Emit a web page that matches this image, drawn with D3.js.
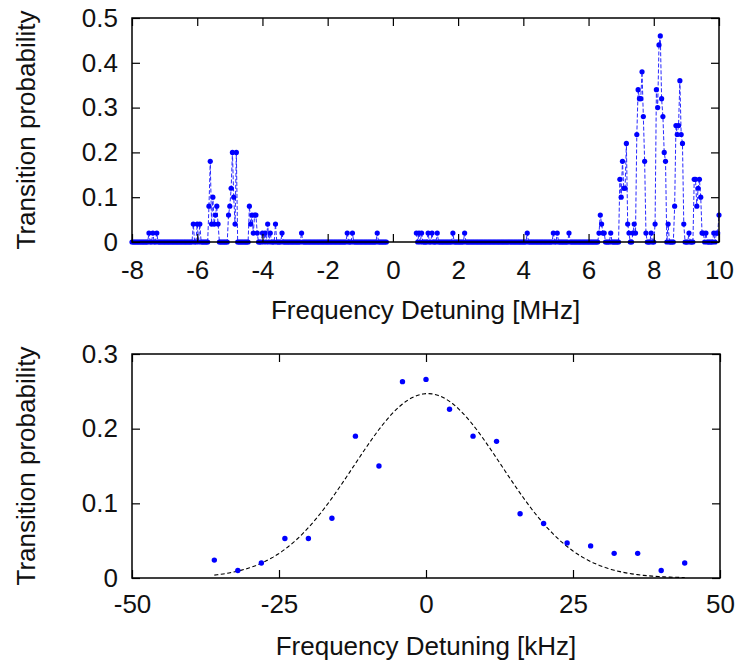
<!DOCTYPE html>
<html>
<head>
<meta charset="utf-8">
<script src="https://cdn.jsdelivr.net/npm/d3@7/dist/d3.min.js"></script>
<style>
  body { margin: 0; background: #fff; }
  .chart-container text { font-family: "Liberation Sans", Arial, sans-serif; fill: #111; }
</style>
</head>
<body>
<div class="chart-container"></div>
<script>
// Panel de arriba: barrido en MHz
const scanRanges = [[-8, -0.2], [0.72, 10]]   // tramos medidos (sin datos entre medias)
const scanStep = 0.04
// puntos distintos de cero (el resto del barrido vale 0)
const peakFreq = [
  -7.48, -7.36, -7.24, -6.12, -6.00, -5.92,
  -5.64, -5.60, -5.56, -5.52, -5.48, -5.44, -5.40, -5.36,
  -5.04, -5.00, -4.96, -4.92, -4.88, -4.84, -4.80,
  -4.40, -4.36, -4.32, -4.28, -4.24, -4.20, -4.16,
  -4.00, -3.92, -3.84, -3.76, -3.60, -3.40, -2.80, -1.40, -1.24, -0.48,
  0.72, 0.80, 0.88, 1.08, 1.20, 1.36, 1.84, 2.20, 4.12, 4.92, 5.04, 5.40,
  6.32, 6.36, 6.40, 6.44, 6.48, 6.68,
  6.96, 7.00, 7.04, 7.08, 7.12, 7.16, 7.20, 7.24,
  7.36, 7.40, 7.44, 7.48, 7.52, 7.56, 7.60, 7.64, 7.68, 7.72, 7.76,
  7.92, 8.04, 8.08, 8.12, 8.16, 8.20, 8.24, 8.28, 8.32, 8.36, 8.44,
  8.64, 8.68, 8.72, 8.76, 8.80, 8.84, 8.88, 8.92,
  9.08, 9.24, 9.28, 9.32, 9.36, 9.40, 9.44, 9.48, 9.52, 9.60,
  9.84, 9.92, 9.96, 10.00
]
const peakProb = [
  0.02, 0.02, 0.02, 0.04, 0.04, 0.04,
  0.08, 0.18, 0.04, 0.10, 0.04, 0.06, 0.08, 0.04,
  0.06, 0.08, 0.12, 0.20, 0.10, 0.04, 0.20,
  0.08, 0.04, 0.06, 0.02, 0.06, 0.06, 0.02,
  0.02, 0.02, 0.04, 0.02, 0.04, 0.02, 0.02, 0.02, 0.02, 0.02,
  0.02, 0.02, 0.02, 0.02, 0.02, 0.02, 0.02, 0.02, 0.02, 0.02, 0.02, 0.02,
  0.02, 0.06, 0.04, 0.02, 0.02, 0.02,
  0.14, 0.10, 0.18, 0.12, 0.12, 0.22, 0.04, 0.02,
  0.02, 0.04, 0.02, 0.24, 0.34, 0.32, 0.32, 0.38, 0.28, 0.18, 0.02,
  0.02, 0.04, 0.34, 0.30, 0.44, 0.46, 0.32, 0.28, 0.20, 0.18, 0.04,
  0.08, 0.26, 0.24, 0.26, 0.36, 0.24, 0.22, 0.04,
  0.02, 0.14, 0.14, 0.08, 0.12, 0.14, 0.10, 0.02, 0.02, 0.02,
  0.02, 0.02, 0.02, 0.06
]
const mhzTicks = [-8, -6, -4, -2, 0, 2, 4, 6, 8, 10]
const probTicksTop = [0, 0.1, 0.2, 0.3, 0.4, 0.5]

// Panel de abajo: barrido fino en kHz
const khzFreq = [-36, -32, -28, -24, -20, -16, -12, -8, -4, 0, 4, 8, 12, 16, 20, 24, 28, 32, 36, 40, 44]
const khzProb = [0.024, 0.010, 0.020, 0.053, 0.053, 0.080, 0.190, 0.150, 0.263, 0.266, 0.226,
                 0.190, 0.183, 0.086, 0.073, 0.047, 0.043, 0.033, 0.033, 0.010, 0.020]
const khzTicks = [-50, -25, 0, 25, 50]
const probTicksBottom = [0, 0.1, 0.2, 0.3]
// ajuste gaussiano
const fitAmp = 0.247
const fitCenter = 0.3
const fitSigma = 12.6
const fitRange = [-36, 44]

const WIDTH = 741
const HEIGHT = 665
const FONT = 26
const TICK = 8

const svg = d3.select(".chart-container")
  .append("svg")
  .attr("width", WIDTH)
  .attr("height", HEIGHT)

const topBox = { left: 132, right: 719, top: 18, bottom: 242 }
const botBox = { left: 132, right: 720, top: 354, bottom: 578 }

// etiquetas con guion normal, como en el original
const probFormat = d => d === 0 ? "0" : d.toFixed(1)
const intFormat = d => String(d)

// Dibuja ejes, marco y titulos de un panel
const drawFrame = (box, x, y, xTicks, yTicks, xTitle, padX) => {
  const g = svg.append("g")

  g.append("g")
    .attr("transform", `translate(0, ${box.bottom})`)
    .call(d3.axisBottom(x).tickValues(xTicks).tickSize(-TICK).tickPadding(padX).tickFormat(intFormat))
  g.append("g")
    .attr("transform", `translate(0, ${box.top})`)
    .call(d3.axisTop(x).tickValues(xTicks).tickSize(-TICK).tickFormat(""))
  g.append("g")
    .attr("transform", `translate(${box.left}, 0)`)
    .call(d3.axisLeft(y).tickValues(yTicks).tickSize(-TICK).tickPadding(14).tickFormat(probFormat))
  g.append("g")
    .attr("transform", `translate(${box.right}, 0)`)
    .call(d3.axisRight(y).tickValues(yTicks).tickSize(-TICK).tickFormat(""))

  g.selectAll(".domain").remove()
  g.selectAll(".tick line").attr("stroke", "#000").attr("stroke-width", 1.2)
  g.selectAll(".tick text").attr("font-size", FONT)

  g.append("rect")
    .attr("x", box.left)
    .attr("y", box.top)
    .attr("width", box.right - box.left)
    .attr("height", box.bottom - box.top)
    .attr("fill", "none")
    .attr("stroke", "#000")
    .attr("stroke-width", 1.5)

  g.append("text")
    .attr("x", (box.left + box.right) / 2)
    .attr("y", box.bottom + 77)
    .attr("text-anchor", "middle")
    .attr("font-size", FONT)
    .text(xTitle)

  g.append("text")
    .attr("transform", `translate(26, ${(box.top + box.bottom) / 2}) rotate(-90)`)
    .attr("dy", "0.35em")
    .attr("text-anchor", "middle")
    .attr("font-size", FONT)
    .text("Transition probability")
}

// ---- Panel de arriba ----
const xTop = d3.scaleLinear().domain([-8, 10]).range([topBox.left, topBox.right])
const yTop = d3.scaleLinear().domain([0, 0.5]).range([topBox.bottom, topBox.top])

const peakLookup = new Map(peakFreq.map((f, i) => [Math.round(f / scanStep), peakProb[i]]))
const scanSegments = scanRanges.map(([a, b]) =>
  d3.range(Math.round(a / scanStep), Math.round(b / scanStep) + 1)
    .map(k => ({ freq: k * scanStep, prob: peakLookup.get(k) || 0 })))

const lineTop = d3.line().x(d => xTop(d.freq)).y(d => yTop(d.prob))

const topData = svg.append("g")
topData.selectAll("path")
  .data(scanSegments)
  .join("path")
  .attr("d", d => lineTop(d))
  .attr("fill", "none")
  .attr("stroke", "#2a2aff")
  .attr("stroke-width", 1)
  .attr("stroke-dasharray", "4,2")

topData.selectAll("circle")
  .data(scanSegments.flat())
  .join("circle")
  .attr("cx", d => xTop(d.freq))
  .attr("cy", d => yTop(d.prob))
  .attr("r", 2.6)
  .attr("fill", "#0000ff")

drawFrame(topBox, xTop, yTop, mhzTicks, probTicksTop, "Frequency Detuning [MHz]", 19)

// ---- Panel de abajo ----
const xBot = d3.scaleLinear().domain([-50, 50]).range([botBox.left, botBox.right])
const yBot = d3.scaleLinear().domain([0, 0.3]).range([botBox.bottom, botBox.top])

const fitPoints = d3.range(fitRange[0], fitRange[1] + 0.25, 0.5)
  .map(f => ({ freq: f, prob: fitAmp * Math.exp(-((f - fitCenter) ** 2) / (2 * fitSigma * fitSigma)) }))

const botData = svg.append("g")
botData.append("path")
  .attr("d", d3.line().x(d => xBot(d.freq)).y(d => yBot(d.prob))(fitPoints))
  .attr("fill", "none")
  .attr("stroke", "#000")
  .attr("stroke-width", 1.1)
  .attr("stroke-dasharray", "4,2.5")

botData.selectAll("circle")
  .data(khzFreq.map((f, i) => ({ freq: f, prob: khzProb[i] })))
  .join("circle")
  .attr("cx", d => xBot(d.freq))
  .attr("cy", d => yBot(d.prob))
  .attr("r", 2.7)
  .attr("fill", "#0000ff")

drawFrame(botBox, xBot, yBot, khzTicks, probTicksBottom, "Frequency Detuning [kHz]", 17)
</script>
</body>
</html>
